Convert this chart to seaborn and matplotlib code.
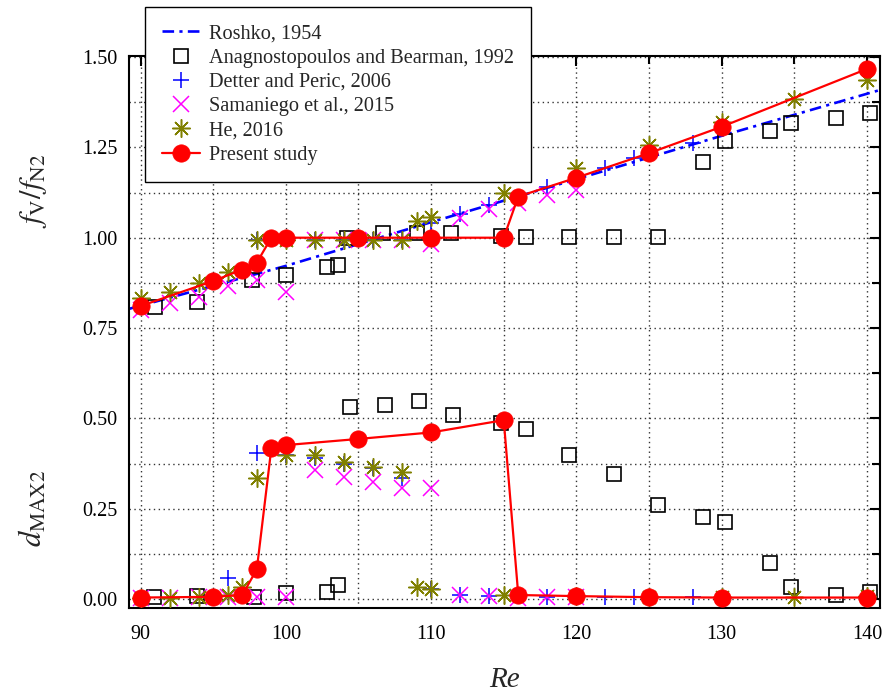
import numpy as np
import pandas as pd
import seaborn as sns
import matplotlib
matplotlib.use("Agg")
import matplotlib.pyplot as plt
from matplotlib.ticker import MultipleLocator, FormatStrFormatter
import matplotlib.transforms as mtransforms
from matplotlib.lines import Line2D

# ---------------- data ----------------
roshko_re = [89.2, 100, 110, 120, 130, 141.0]
roshko_fv = [0.803, 0.922, 1.043, 1.162, 1.282, 1.41]

ab_re_f = [91.0, 93.9, 97.7, 100.0, 102.8, 103.6, 104.2, 106.7, 109.0, 111.4, 114.8,
           116.5, 119.5, 122.6, 125.6, 128.7, 130.2, 133.3, 134.8, 137.9, 140.2]
ab_fv = [0.809, 0.821, 0.883, 0.897, 0.918, 0.924, 1.0, 1.012, 1.012, 1.012, 1.005,
         1.003, 1.003, 1.003, 1.003, 1.210, 1.268, 1.296, 1.318, 1.330, 1.346]
ab_re_d = [90.9, 93.9, 97.8, 100.0, 102.8, 103.6, 104.4, 106.8, 109.2, 111.5, 114.8,
           116.5, 119.5, 122.6, 125.6, 128.7, 130.2, 133.3, 134.8, 137.9, 140.2]
ab_d = [0.006, 0.007, 0.006, 0.016, 0.018, 0.039, 0.532, 0.537, 0.548, 0.509, 0.488,
        0.470, 0.399, 0.345, 0.261, 0.226, 0.213, 0.100, 0.032, 0.011, 0.020]

dp_re_f = [98, 102, 104, 106, 108, 110, 112, 114, 118, 122, 124, 128]
dp_fv = [0.994, 0.995, 0.995, 0.995, 0.995, 1.04, 1.065, 1.09, 1.141, 1.192, 1.22, 1.261]
dp_re_d = [96, 98, 100, 102, 104, 106, 108, 110, 112, 114, 118, 122, 124, 128]
dp_d = [0.057, 0.403, 0.399, 0.389, 0.375, 0.362, 0.334, 0.027, 0.011, 0.009,
        0.006, 0.005, 0.005, 0.005]

sm_re = [90, 92, 94, 96, 98, 100, 102, 104, 106, 108, 110, 112, 114, 116, 118, 120]
sm_fv = [0.80, 0.818, 0.837, 0.865, 0.883, 0.851, 0.995, 0.995, 0.995, 0.995,
         0.983, 1.055, 1.079, 1.095, 1.118, 1.132]
sm_d = [0.004, 0.004, 0.005, 0.005, 0.005, 0.006, 0.357, 0.339, 0.325, 0.306,
        0.306, 0.011, 0.009, 0.004, 0.006, 0.006]

he_re_f = [90, 92, 94, 96, 98, 100, 102, 104, 106, 108, 109, 110, 115, 120, 125, 130, 135, 140]
he_fv = [0.833, 0.851, 0.875, 0.906, 0.994, 0.995, 0.995, 0.995, 0.995, 0.995,
         1.045, 1.058, 1.125, 1.192, 1.257, 1.321, 1.383, 1.437]
he_re_d = [90, 92, 94, 96, 97, 98, 100, 102, 104, 106, 108, 109, 110, 115, 120, 125, 130, 135, 140]
he_d = [0.004, 0.004, 0.005, 0.012, 0.032, 0.334, 0.399, 0.399, 0.38, 0.366, 0.352,
        0.034, 0.028, 0.012, 0.008, 0.006, 0.005, 0.006, 0.008]

ps_re = [90, 95, 97, 98, 99, 100, 105, 110, 115, 116, 120, 125, 130, 140]
ps_fv = [0.811, 0.880, 0.912, 0.931, 1.0, 1.0, 1.0, 1.0, 1.0, 1.114, 1.166, 1.234, 1.307, 1.467]
ps_d = [0.004, 0.006, 0.011, 0.082, 0.417, 0.426, 0.443, 0.461, 0.495, 0.011, 0.008,
        0.005, 0.004, 0.004]

labels = ["Roshko, 1954", "Anagnostopoulos and Bearman, 1992", "Detter and Peric, 2006",
          "Samaniego et al., 2015", "He, 2016", "Present study"]

# ---------------- style ----------------
sns.set_theme(style="white")
plt.rcParams["font.family"] = ["Liberation Serif", "DejaVu Serif"]
plt.rcParams["mathtext.fontset"] = "stix"
plt.rcParams["axes.linewidth"] = 1.5

fig = plt.figure(figsize=(8.92, 6.98), dpi=100)
ax = fig.add_axes([0.1446, 0.1289, 0.8419, 0.7909])

common = dict(estimator=None, sort=False, ax=ax, legend=False)

# Roshko
sns.lineplot(x=roshko_re, y=roshko_fv, color="#0000FF", lw=1.9,
             linestyle=(0, (4.4, 2.0, 1.2, 2.0)), zorder=2, **common)

def markers(x, y, **kw):
    sns.lineplot(x=x, y=y, linestyle="", **kw, **common)

sq = dict(marker="s", markersize=10.5, markerfacecolor="none", markeredgecolor="black",
          markeredgewidth=1.2, color="black", zorder=3)
markers(ab_re_f, ab_fv, **sq)
markers(ab_re_d, ab_d, **sq)

pl = dict(marker="+", markersize=12, markeredgecolor="#0000FF", markeredgewidth=1.1,
          color="#0000FF", zorder=4)
markers(dp_re_f, dp_fv, **pl)
markers(dp_re_d, dp_d, **pl)

xx = dict(marker="x", markersize=11.5, markeredgecolor="#FF00FF", markeredgewidth=1.1,
          color="#FF00FF", zorder=5)
markers(sm_re, sm_fv, **xx)
markers(sm_re, sm_d, **xx)

st = dict(marker=(8, 2, 0), markersize=13, markeredgecolor="#808000", markeredgewidth=1.1,
          color="#808000", zorder=6)
markers(he_re_f, he_fv, **st)
markers(he_re_d, he_d, **st)

pr = dict(marker="o", markersize=12.5, markerfacecolor="#FF0000", markeredgecolor="#FF0000",
          markeredgewidth=0.5, color="#FF0000", lw=1.6, zorder=7)
sns.lineplot(x=ps_re, y=ps_fv, **pr, **common)
sns.lineplot(x=ps_re, y=ps_d, **pr, **common)

# ---------------- axes ----------------
ax.set_xlim(89.2, 140.9)
ax.set_ylim(-0.025, 1.503)
ax.xaxis.set_major_locator(MultipleLocator(10))
ax.xaxis.set_minor_locator(MultipleLocator(5))
ax.yaxis.set_major_locator(MultipleLocator(0.25))
ax.yaxis.set_minor_locator(MultipleLocator(0.125))
ax.yaxis.set_major_formatter(FormatStrFormatter("%.2f"))
ax.set_axisbelow(True)
ax.grid(which="both", linestyle=(0, (1, 2.5)), color="#333333", linewidth=1.0)
ax.tick_params(which="both", direction="in", top=True, right=True, colors="black",
               labelsize=14.5, width=1.5)
ax.tick_params(which="major", length=7)
ax.tick_params(which="minor", length=6)
ax.tick_params(axis="y", which="major", pad=8)
ax.tick_params(axis="x", which="major", pad=12)
for s in ax.spines.values():
    s.set_color("black")
    s.set_linewidth(1.5)

ax.set_xlabel("Re", fontsize=21, style="italic", labelpad=17)
ax.set_ylabel("")
trans = mtransforms.blended_transform_factory(ax.transAxes, ax.transData)
ax.text(-0.127, 1.13, r"$f_{\mathrm{V}}/f_{\mathrm{N2}}$", transform=trans, rotation=90,
        ha="center", va="center", fontsize=22)
ax.text(-0.127, 0.25, r"$d_{\mathrm{MAX2}}$", transform=trans, rotation=90,
        ha="center", va="center", fontsize=22)

# ---------------- legend ----------------
handles = [
    Line2D([], [], color="#0000FF", lw=1.9, linestyle=(0, (4.4, 2.0, 1.2, 2.0))),
    Line2D([], [], linestyle="", **{k: v for k, v in sq.items() if k not in ("color", "zorder")}),
    Line2D([], [], linestyle="", **{k: v for k, v in pl.items() if k not in ("color", "zorder")}),
    Line2D([], [], linestyle="", **{k: v for k, v in xx.items() if k not in ("color", "zorder")}),
    Line2D([], [], linestyle="", **{k: v for k, v in st.items() if k not in ("color", "zorder")}),
    Line2D([], [], **{k: v for k, v in pr.items() if k not in ("zorder",)}),
]
leg = ax.legend(handles, labels, loc="upper left", bbox_to_anchor=(0.1626, 0.99),
                bbox_transform=fig.transFigure, fontsize=14.6, frameon=True, fancybox=False,
                edgecolor="black", framealpha=1, handlelength=1.85, handletextpad=0.45,
                labelspacing=0.25, borderpad=0.85, borderaxespad=0)
leg.get_frame().set_linewidth(1.0)
leg.set_zorder(20)

fig.savefig("out.png", dpi=100)
